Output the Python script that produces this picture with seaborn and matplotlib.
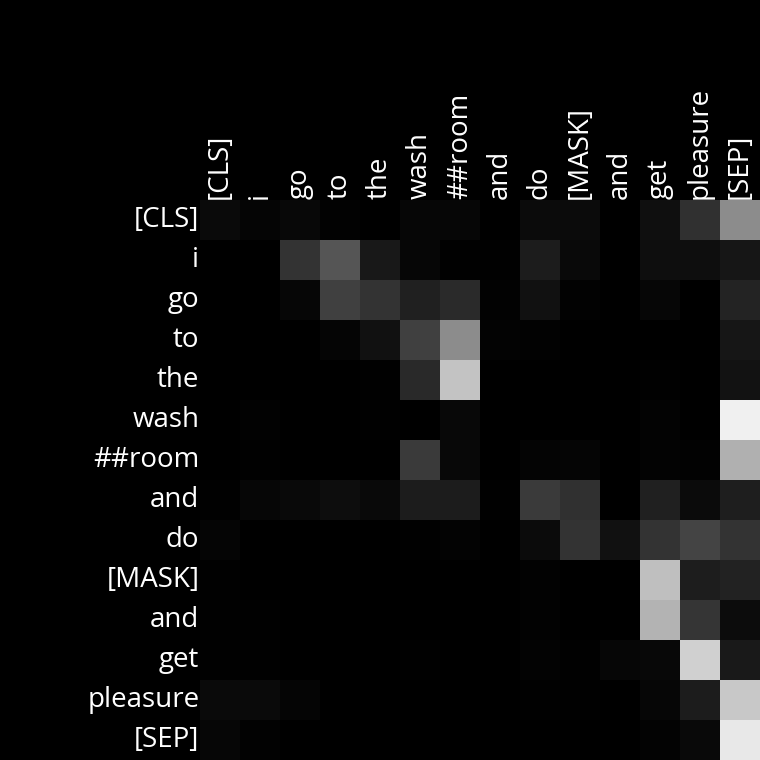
import numpy as np
import pandas as pd
import seaborn as sns
import matplotlib
matplotlib.use("Agg")
import matplotlib.pyplot as plt

tokens = ["[CLS]", "i", "go", "to", "the", "wash", "##room", "and", "do",
          "[MASK]", "and", "get", "pleasure", "[SEP]"]

# attention weights (0-255 gray level)
row_cls = [10, 5, 8, 2, 0, 6, 6, 0, 11, 11, 0, 15, 48, 140]
row_i = [0, 0, 51, 85, 24, 6, 1, 1, 28, 9, 0, 14, 14, 22]
row_go = [0, 0, 6, 64, 51, 32, 42, 2, 17, 2, 0, 6, 0, 35]
row_to = [0, 0, 0, 5, 17, 64, 140, 3, 2, 0, 0, 0, 0, 22]
row_the = [0, 0, 0, 0, 1, 41, 195, 0, 0, 0, 0, 1, 0, 18]
row_wash = [0, 2, 0, 0, 1, 0, 8, 0, 0, 0, 0, 3, 0, 240]
row_room = [0, 1, 0, 0, 0, 58, 8, 0, 4, 5, 0, 3, 2, 176]
row_and = [1, 6, 9, 13, 9, 28, 28, 1, 58, 48, 0, 32, 11, 30]
row_do = [5, 0, 0, 0, 0, 1, 3, 0, 11, 51, 17, 51, 68, 51]
row_mask = [1, 0, 0, 0, 0, 0, 0, 0, 2, 0, 0, 191, 29, 34]
row_and2 = [1, 1, 0, 0, 0, 0, 0, 0, 2, 0, 0, 179, 53, 12]
row_get = [1, 1, 0, 0, 0, 1, 0, 0, 3, 1, 6, 8, 208, 25]
row_pleasure = [10, 10, 5, 0, 0, 0, 0, 0, 1, 1, 0, 6, 28, 200]
row_sep = [6, 2, 0, 0, 0, 0, 0, 0, 0, 0, 0, 3, 9, 232]

attn = pd.DataFrame(
    [row_cls, row_i, row_go, row_to, row_the, row_wash, row_room, row_and,
     row_do, row_mask, row_and2, row_get, row_pleasure, row_sep],
    index=tokens, columns=tokens,
) / 255.0

plt.rcParams["font.family"] = ["Open Sans", "DejaVu Sans"]

fig = plt.figure(figsize=(7.6, 7.6), dpi=100, facecolor="black")
ax = fig.add_axes([200 / 760, 0, 560 / 760, 560 / 760])
sns.heatmap(attn, cmap="gray", vmin=0, vmax=1, cbar=False, ax=ax,
            xticklabels=tokens, yticklabels=tokens)
ax.xaxis.tick_top()
ax.tick_params(length=0, pad=0.5, colors="white", labelsize=20)
plt.setp(ax.get_xticklabels(), rotation=90, color="white")
plt.setp(ax.get_yticklabels(), rotation=0, color="white")

fig.savefig("out.png", dpi=100, facecolor="black")
